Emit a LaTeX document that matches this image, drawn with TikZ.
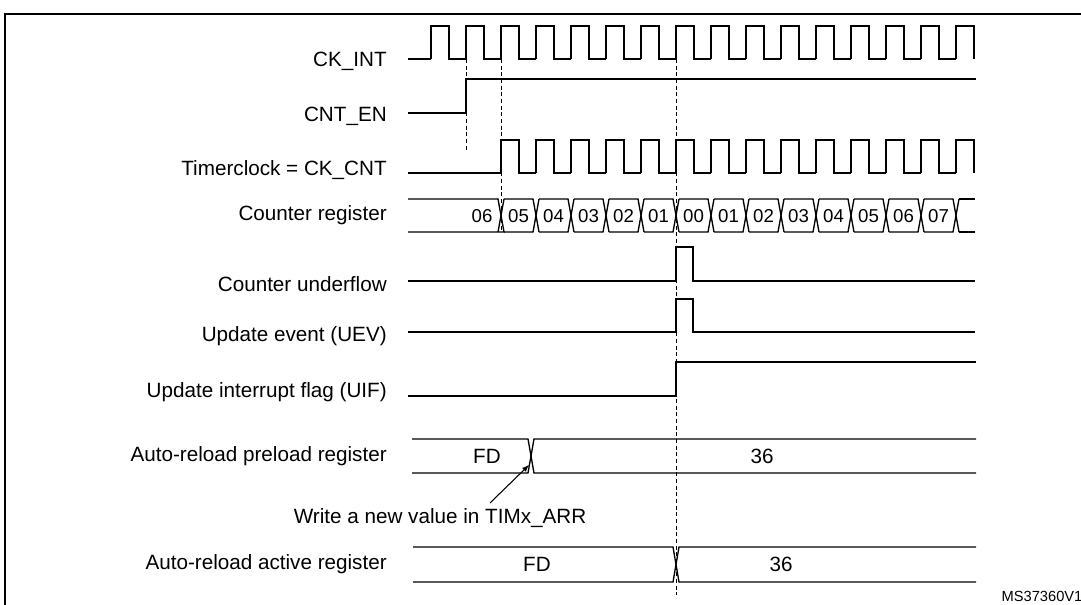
\documentclass[tikz,border=0pt]{standalone}
\usepackage{fontspec}
\setmainfont{Liberation Sans}
\usetikzlibrary{positioning}
\tikzset{
  sig/.style={line width=1pt},
  guide/.style={densely dashed,line width=0.6pt},
  lbl/.style={anchor=east,inner sep=0pt,font=\fontsize{15.5}{18}\selectfont},
  val/.style={font=\fontsize{15.5}{18}\selectfont},
  hex/.style={font=\fontsize{14}{16}\selectfont},
}
\begin{document}
\begin{tikzpicture}[x=0.75pt,y=-0.75pt]
      \useasboundingbox (0,0) rectangle (1081,605);
      \draw[line width=1pt] (5,605) -- (5,14) -- (1081,14);

      \node[lbl] (lckint) at (387,61) {CK\_INT};
      \node[lbl] (lcnten) at (387,116) {CNT\_EN};
      \node[lbl] (lckcnt) at (387,170) {Timerclock = CK\_CNT};
      \node[lbl] (lcnt) at (387,215) {Counter register};
      \node[lbl] (lunf) at (387,284) {Counter underflow};
      \node[lbl] (luev) at (387,336) {Update event (UEV)};
      \node[lbl] (luif) at (387,392) {Update interrupt flag (UIF)};
      \node[lbl] (lpre) at (387,456) {Auto-reload preload register};
      \node[lbl] (lact) at (387,564) {Auto-reload active register};

      % CK_INT
      \draw[sig] (408,59) -- (431,59);
      \foreach \k in {0,...,15}
        \draw[sig] ({431+35*\k},59) -- ({431+35*\k},26) -- ({449+35*\k},26) -- ({449+35*\k},59)
          \ifnum\k<15 -- ({466+35*\k},59) \fi;

      % CNT_EN
      \draw[sig] (408,113) -- (466,113) -- (466,79) -- (976,79);

      % CK_CNT
      \draw[sig] (408,173) -- (501,173);
      \foreach \k in {2,...,15}
        \draw[sig] ({431+35*\k},173) -- ({431+35*\k},140) -- ({449+35*\k},140) -- ({449+35*\k},173)
          \ifnum\k<15 -- ({466+35*\k},173) \fi;

      % counter register
      \draw[sig] (408,199) -- (498,199) -- (504,232) -- (408,232);
      \draw[sig] (498,232) -- (504,199);
      \node[hex] (c06) at (482,216) {06};
      \foreach \v [count=\i from 0] in {05,04,03,02,01,00,01,02,03,04,05,06,07} {
        \pgfmathsetmacro\xa{501+35*\i}
        \pgfmathsetmacro\xb{501+35*(\i+1)}
        \draw[sig] (\xa+3,199) -- (\xb-3,199) -- (\xb+3,232);
        \draw[sig] (\xa+3,232) -- (\xb-3,232) -- (\xb+3,199);
        \node[hex] (c\i) at ({(\xa+\xb)/2},216) {\v};
      }
      \draw[sig] (959,199) -- (975,199);
      \draw[sig] (959,232) -- (975,232);

      % underflow, UEV, UIF
      \draw[sig] (408,281) -- (676,281) -- (676,247) -- (693,247) -- (693,281) -- (975,281);
      \draw[sig] (408,332) -- (676,332) -- (676,299) -- (693,299) -- (693,332) -- (975,332);
      \draw[sig] (408,396) -- (676,396) -- (676,362) -- (976,362);

      % preload register
      \draw[sig] (412,439) -- (528,439) -- (534,473) -- (976,473);
      \draw[sig] (412,473) -- (528,473) -- (534,439) -- (976,439);
      \node[val] (pfd) at (487,456) {FD};
      \node[val] (p36) at (762,456) {36};
      \node[val] (wr) at (440,518) {Write a new value in TIMx\_ARR};
      \coordinate (wx) at (529,465);
      \draw[-latex,line width=0.8pt] (490,503) -- (wx);

      % active register
      \draw[sig] (413,547) -- (673,547) -- (679,582) -- (976,582);
      \draw[sig] (413,582) -- (673,582) -- (679,547) -- (976,547);
      \node[val] (afd) at (537,564) {FD};
      \node[val] (a36) at (781,564) {36};

      % guides
      \draw[guide] (466,59) -- (466,150);
      \draw[guide] (501,59) -- (501,232);
      \draw[guide] (676,59) -- (676,595);

      \node[font=\fontsize{11}{12}\selectfont] (ms) at (1042,596) {MS37360V1};
\end{tikzpicture}
\end{document}
